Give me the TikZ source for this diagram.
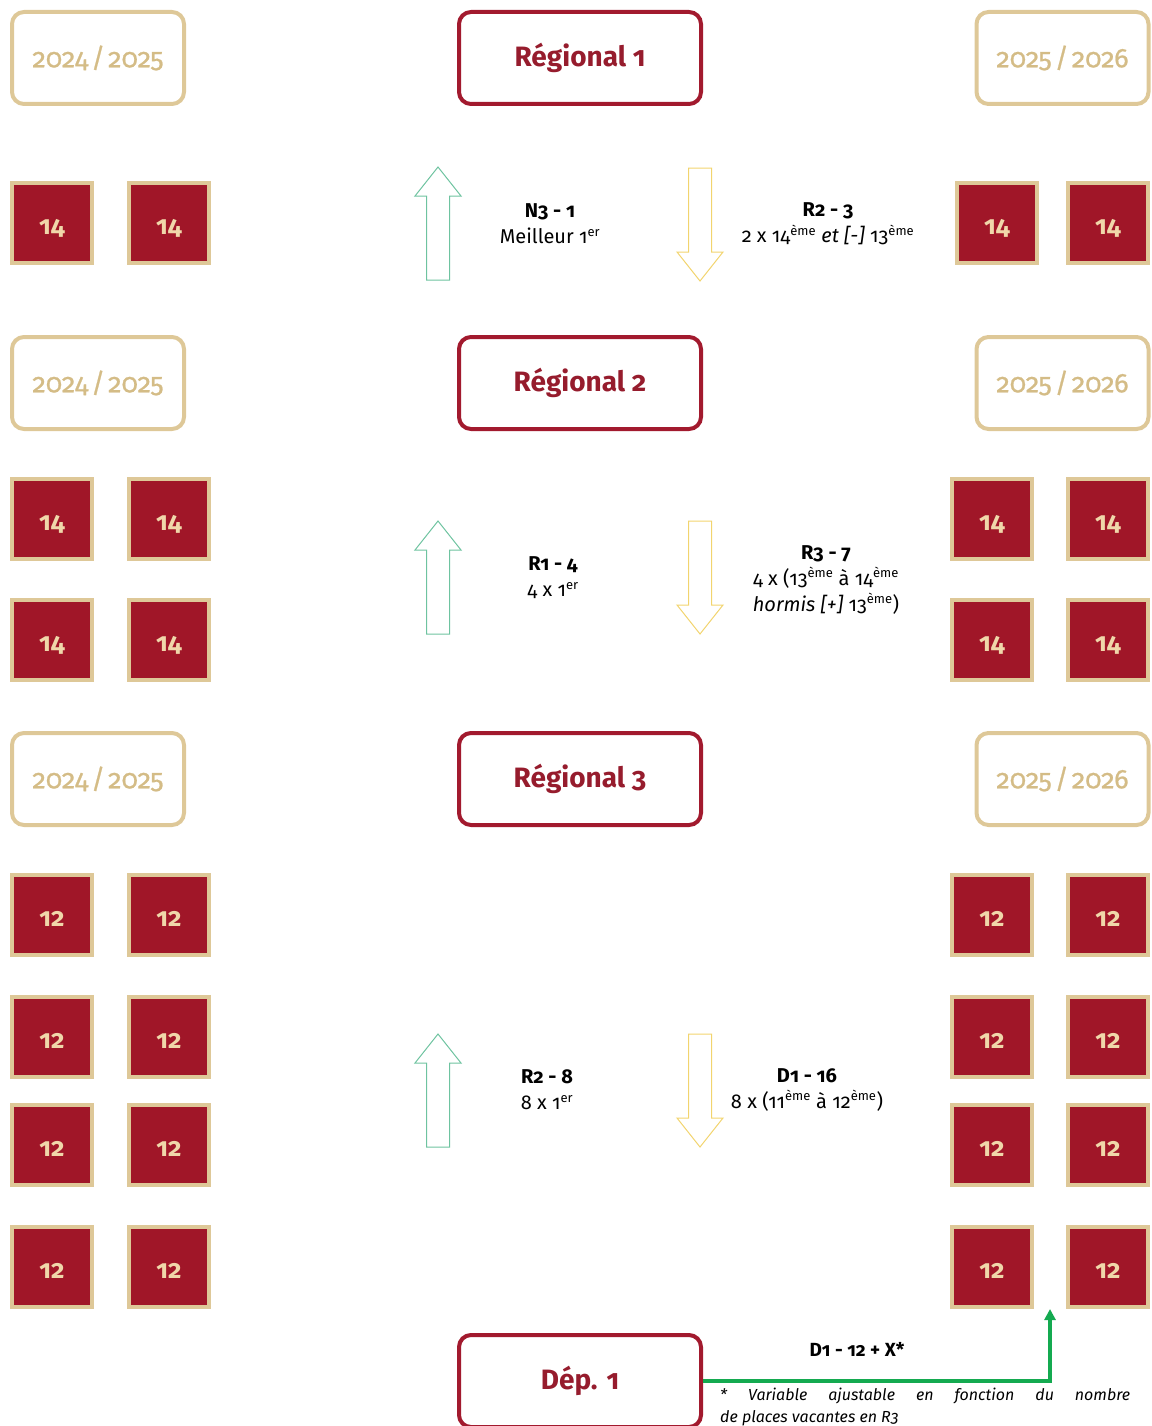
\documentclass[tikz,border=0pt]{standalone}
\usepackage{fontspec}
\setmainfont{Fira Sans}[Numbers=OldStyle]
\newfontfamily\yearfont{Fira Sans}[Numbers=OldStyle, FakeBold=0.8]
\usetikzlibrary{arrows.meta}
\definecolor{gold}{RGB}{222,200,152}
\definecolor{goldtext}{RGB}{212,188,134}
\definecolor{sqtext}{RGB}{240,215,170}
\definecolor{sqred}{RGB}{160,22,40}
\definecolor{dred}{RGB}{162,26,46}
\definecolor{regtext}{RGB}{150,28,45}
\definecolor{upgreen}{RGB}{110,195,160}
\definecolor{downyellow}{RGB}{242,212,110}
\definecolor{linkgreen}{RGB}{20,170,80}
\newcommand{\fs}[2]{\fontsize{#1}{#2}\selectfont}
\newcommand{\sptxt}[1]{\textsuperscript{\fontsize{13}{13}\selectfont #1}}
\newcommand{\yr}[2]{#1\kern3pt/\kern3pt#2}
\newcommand{\sqn}[1]{\raisebox{-11pt}[0pt][0pt]{#1}}
\tikzset{
  yearbox/.style={draw=gold, line width=4pt, rounded corners=12pt, minimum width=172pt, minimum height=92pt, text=goldtext, font=\yearfont\fs{27}{30}},
  regbox/.style={draw=dred, line width=4pt, rounded corners=12pt, minimum width=242pt, minimum height=92pt, text=regtext, font=\bfseries\fs{28}{30}},
  sq/.style={fill=sqred, draw=gold, line width=4pt, minimum width=80pt, minimum height=80pt, text=sqtext, font=\bfseries\fs{26}{28}},
  lab/.style={font=\fs{20}{26}, align=center, text=black},
  uparrow/.pic={\draw[upgreen, line width=1pt] (0,0) -- (23,29) -- (11.5,29) -- (11.5,113) -- (-11.5,113) -- (-11.5,29) -- (-23,29) -- cycle;},
  downarrow/.pic={\draw[downyellow, line width=1pt] (0,113) -- (23,84) -- (11.5,84) -- (11.5,0) -- (-11.5,0) -- (-11.5,84) -- (-23,84) -- cycle;}
}
\begin{document}
\begin{tikzpicture}[x=1pt,y=-1pt]
\useasboundingbox (0,0) rectangle (1151,1426);
\clip (0,0) rectangle (1151,1426);
% year boxes
\node[yearbox] (yl1) at (98,58) {\yr{2024}{2025}};
\node[yearbox] (yr1) at (1062.5,58) {\yr{2025}{2026}};
\node[yearbox] (yl2) at (98,383) {\yr{2024}{2025}};
\node[yearbox] (yr2) at (1062.5,383) {\yr{2025}{2026}};
\node[yearbox] (yl3) at (98,779) {\yr{2024}{2025}};
\node[yearbox] (yr3) at (1062.5,779) {\yr{2025}{2026}};
% regional boxes
\node[regbox] (r1) at (580,58) {Régional 1};
\node[regbox] (r2) at (580,383) {Régional 2};
\node[regbox] (r3) at (580,779) {Régional 3};
\node[regbox] (d1) at (580,1381) {Dép. 1};
% squares section 1
\node[sq] (a1) at (52,223) {\sqn{14}};
\node[sq] (a2) at (169,223) {\sqn{14}};
\node[sq] (b1) at (997,223) {\sqn{14}};
\node[sq] (b2) at (1108,223) {\sqn{14}};
% section 2
\node[sq] (c1) at (52,519) {\sqn{14}};
\node[sq] (c2) at (169,519) {\sqn{14}};
\node[sq] (c3) at (52,640) {\sqn{14}};
\node[sq] (c4) at (169,640) {\sqn{14}};
\node[sq] (e1) at (992,519) {\sqn{14}};
\node[sq] (e2) at (1108,519) {\sqn{14}};
\node[sq] (e3) at (992,640) {\sqn{14}};
\node[sq] (e4) at (1108,640) {\sqn{14}};
% section 3
\foreach \y [count=\i] in {915,1037,1145,1267}{
  \node[sq] (f\i) at (52,\y) {\sqn{12}};
  \node[sq] (g\i) at (169,\y) {\sqn{12}};
  \node[sq] (h\i) at (992,\y) {\sqn{12}};
  \node[sq] (k\i) at (1108,\y) {\sqn{12}};
}
% arrows
\pic at (438,167) {uparrow};
\pic at (700,168) {downarrow};
\pic at (438,521) {uparrow};
\pic at (700,521) {downarrow};
\pic at (438,1034) {uparrow};
\pic at (700,1034) {downarrow};
% labels
\node[lab] (l1) at (550,224) {\textbf{N3 - 1}\\Meilleur 1\sptxt{er}};
\node[lab] (l2) at (828,224) {\textbf{R2 - 3}\\2 x 14\sptxt{ème} \textit{et [-]} 13\sptxt{ème}};
\node[lab] (l3) at (553,578) {\textbf{R1 - 4}\\4 x 1\sptxt{er}};
\node[lab] (l4) at (826,580) {\textbf{R3 - 7}\\4 x (13\sptxt{ème} à 14\sptxt{ème}\\\textit{hormis [+]} 13\sptxt{ème})};
\node[lab] (l5) at (547,1090) {\textbf{R2 - 8}\\8 x 1\sptxt{er}};
\node[lab] (l6) at (807,1090) {\textbf{D1 - 16}\\8 x (11\sptxt{ème} à 12\sptxt{ème})};
% green connector
\coordinate (tgt) at (1050,1309);
\draw[linkgreen, line width=4pt, -{Triangle[length=11pt,width=11pt]}] (d1.east) -| (tgt);
\node[font=\bfseries\fs{19}{22}] (dl) at (857,1349) {D1 - 12 + X*};
\node[font=\itshape\fs{16}{22}, text width=410pt, align=justify, inner sep=0pt, anchor=north west] (fn) at (720,1388) {* Variable ajustable en fonction du nombre\linebreak de places vacantes en R3};
\end{tikzpicture}
\end{document}
